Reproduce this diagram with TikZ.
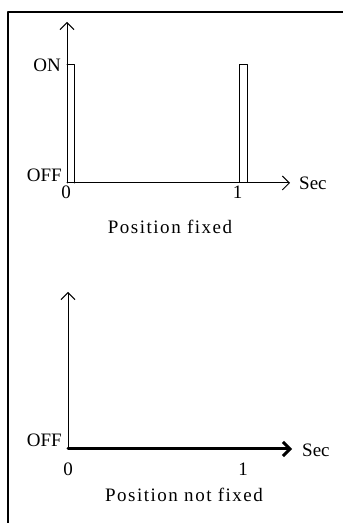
\documentclass[tikz,border=0pt]{standalone}
\usepackage{fontspec}
\setmainfont{Liberation Serif}
\newfontfamily\capfont[LetterSpace=8]{Liberation Serif}
\usetikzlibrary{arrows.meta}

\begin{document}
\begin{tikzpicture}[line cap=round,line join=round,>={Straight Barb[length=7pt,width=14pt]},x=1pt,y=1pt,
  lab/.style={inner sep=0pt,font=\fontsize{19}{22}\selectfont},
  caption/.style={inner sep=0pt,font=\capfont\fontsize{19}{22}\selectfont},
  plotline/.style={line width=1pt}]
\useasboundingbox (0,0) rectangle (343,523);
% frame
\draw[line width=2.5pt,line cap=butt] (8,0) -- (8,511) -- (343,511);
% position fixed
\coordinate (oA) at (67,340);
\coordinate (yA) at (67,501);
\coordinate (xA) at (290,340);
\draw[plotline,->] (oA) -- (yA);
\draw[plotline,->] (oA) -- (xA);
\draw[plotline] (67,458) -- (74,458) -- (74,340);
\draw[plotline] (239,340) rectangle (247,458);
\node[lab,anchor=east] (onA) at (61,458) {ON};
\node[lab,anchor=east] (offA) at (62,348) {OFF};
\node[lab,anchor=west] (secA) at (299,340) {Sec};
\node[lab,anchor=north] (zeroA) at (66,337) {0};
\node[lab,anchor=north] (oneA) at (237.5,337) {1};
\node[caption] (capA) at (170,296) {Position fixed};
% position not fixed
\coordinate (oB) at (68,74);
\coordinate (yB) at (68,231);
\coordinate (xB) at (292,74);
\draw[plotline,->] (oB) -- (yB);
\draw[line width=3pt,->] (oB) -- (xB);
\node[lab,anchor=east] (offB) at (62,83) {OFF};
\node[lab,anchor=west] (secB) at (302,73) {Sec};
\node[lab,anchor=north] (zeroB) at (68,60) {0};
\node[lab,anchor=north] (oneB) at (243,60) {1};
\node[caption] (capB) at (184,28) {Position not fixed};
\end{tikzpicture}
\end{document}
